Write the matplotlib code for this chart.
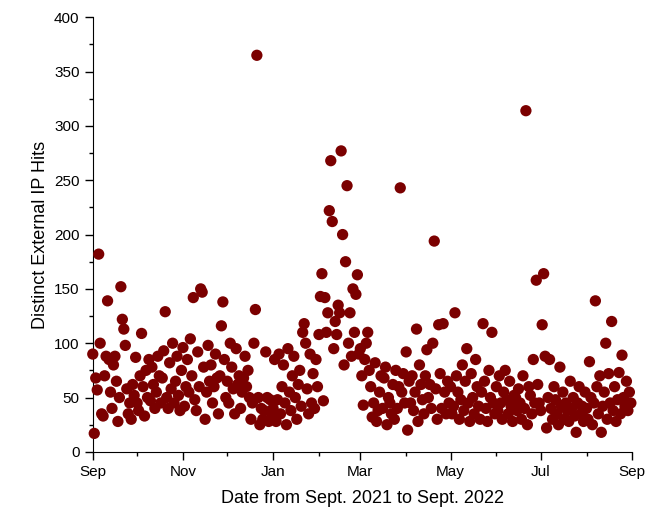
import pandas as pd
import matplotlib
matplotlib.use("Agg")
import matplotlib.pyplot as plt
import matplotlib.dates as mdates
from matplotlib.ticker import MultipleLocator

plt.rcParams['font.family'] = ['Liberation Sans', 'DejaVu Sans']

# daily hit counts, one list per month (Sep 2021 .. Aug 2022)
sep = [90, 17, 68, 57, 182, 100, 35, 33, 70, 88, 139, 85, 55, 40, 80, 88, 65, 28, 50, 152,
       122, 113, 98, 58, 35, 45, 30, 62, 52, 87]
oct_ = [45, 38, 70, 109, 60, 33, 75, 50, 85, 47, 78, 62, 40, 55, 88, 70, 45, 68, 93, 129,
        50, 40, 82, 58, 100, 45, 65, 88, 52, 38, 75]
nov = [96, 42, 60, 85, 55, 104, 70, 142, 48, 38, 92, 60, 150, 147, 78, 30, 55, 98, 65, 80,
       45, 60, 90, 68, 35, 70, 116, 138, 85, 50]
dec = [65, 45, 100, 78, 58, 35, 95, 62, 70, 40, 55, 68, 88, 60, 75, 50, 30, 45, 100, 131,
       365, 50, 25, 40, 30, 38, 92, 50, 28, 48, 35]
jan = [40, 85, 28, 48, 90, 35, 60, 80, 45, 25, 95, 55, 38, 70, 88, 50, 30, 62, 75, 42,
       110, 118, 100, 58, 35, 90, 45, 72, 40, 85, 60]
feb = [108, 143, 164, 47, 142, 110, 128, 222, 268, 212, 95, 120, 108, 135, 128, 277, 200, 80,
       175, 245, 100, 128, 88, 150, 110, 145, 163, 90]
mar = [95, 70, 43, 85, 100, 110, 75, 60, 32, 45, 82, 28, 38, 55, 70, 40, 68, 78, 25, 50,
       45, 35, 62, 30, 75, 40, 60, 243, 55, 72, 45]
apr = [92, 20, 65, 45, 70, 38, 55, 113, 28, 80, 62, 48, 35, 70, 94, 50, 62, 40, 100, 194,
       58, 30, 117, 72, 40, 118, 55, 35, 65, 45]
may = [60, 35, 42, 128, 70, 55, 30, 48, 80, 38, 65, 95, 45, 28, 72, 50, 35, 85, 60, 42,
       30, 55, 118, 65, 40, 28, 75, 50, 110, 45, 35]
jun = [60, 38, 70, 45, 30, 55, 75, 48, 35, 65, 42, 28, 52, 50, 38, 58, 45, 30, 70, 40,
       314, 25, 60, 52, 35, 85, 45, 158, 62, 45]
jul = [38, 117, 164, 88, 22, 50, 85, 40, 30, 60, 48, 35, 25, 78, 42, 55, 30, 45, 38, 28,
       65, 40, 50, 33, 18, 45, 60, 35, 42, 28, 55]
aug = [40, 30, 83, 50, 25, 45, 139, 60, 35, 70, 18, 42, 55, 100, 30, 72, 45, 120, 38, 60,
       28, 48, 73, 35, 89, 50, 42, 65, 38, 55, 45]

hits = sep + oct_ + nov + dec + jan + feb + mar + apr + may + jun + jul + aug
dates = pd.date_range("2021-09-01", periods=len(hits), freq="D")

fig = plt.figure(figsize=(6.58, 5.23), dpi=100)
ax = fig.add_axes([0.141, 0.136, 0.820, 0.831])

ax.scatter(dates, hits, s=66, color='#7b0000', edgecolors='none', zorder=3, clip_on=False)

ax.set_xlim(pd.Timestamp("2021-09-01"), pd.Timestamp("2022-09-01"))
ax.set_ylim(0, 400)
ax.xaxis.set_major_locator(mdates.MonthLocator(bymonth=[1, 3, 5, 7, 9, 11]))
ax.xaxis.set_minor_locator(mdates.MonthLocator())
ax.xaxis.set_major_formatter(mdates.DateFormatter('%b'))
ax.yaxis.set_major_locator(MultipleLocator(50))
ax.yaxis.set_minor_locator(MultipleLocator(25))

for s in ['top', 'right']:
    ax.spines[s].set_visible(False)
ax.tick_params(which='major', direction='out', length=6, width=1, labelsize=11)
ax.tick_params(which='minor', direction='out', length=3, width=1)

ax.set_xlabel('Date from Sept. 2021 to Sept. 2022', fontsize=13, labelpad=8)
ax.set_ylabel('Distinct External IP Hits', fontsize=13)

fig.savefig('out.png', dpi=100)
